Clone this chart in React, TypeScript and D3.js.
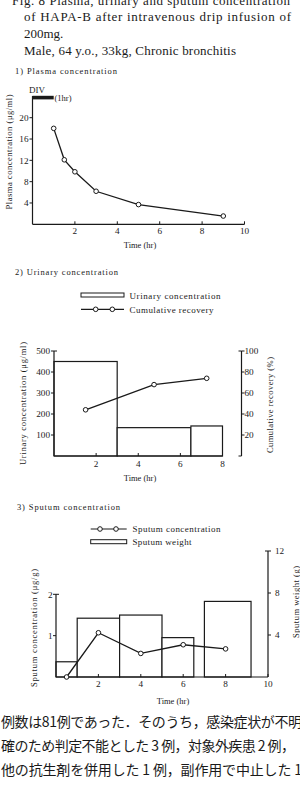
import React from "react";
import * as d3 from "d3";

// ---- Data ----
const plasmaTime = [1, 1.5, 2, 3, 5, 9];
const plasmaConc = [18, 12.1, 9.85, 6.2, 3.7, 1.55];
const plasmaXTicks = [2, 4, 6, 8, 10];
const plasmaYTicks = [4, 8, 12, 16, 20];

const urineStart = [0, 3, 6.5];
const urineEnd = [3, 6.5, 8];
const urineConc = [450, 135, 143];
const recoveryTime = [1.5, 4.75, 7.25];
const recoveryPct = [44, 68, 74];
const urineXTicks = [2, 4, 6, 8];
const urineYTicks = [100, 200, 300, 400, 500];
const recoveryTicks = [20, 40, 60, 80, 100];

const sputumWStart = [0, 1, 3, 5, 7];
const sputumWEnd = [1, 3, 5, 6.5, 9.2];
const sputumWeight = [1.45, 5.6, 5.9, 3.75, 7.2];
const sputumTime = [0.5, 2, 4, 6, 8];
const sputumConc = [0, 1.07, 0.57, 0.78, 0.68];
const sputumXTicks = [2, 4, 6, 8, 10];
const sputumYTicks = [1, 2];
const weightTicks = [4, 8, 12];

const bodyLines = [
  "例数は81例であった．そのうち，感染症状が不明",
  "確のため判定不能とした 3 例，対象外疾患 2 例，",
  "他の抗生剤を併用した 1 例，副作用で中止した 1",
];

const ink = "#1a1a1a";
const serif = "'Liberation Serif', 'DejaVu Serif', serif";
const cjk = "'Noto Sans CJK JP', sans-serif";

function Marker({ x, y }: { x: number; y: number }) {
  return <circle cx={x} cy={y} r={2.3} fill="#fff" stroke={ink} strokeWidth={1} />;
}

export default function App() {
  // Plasma
  const xP = d3.scaleLinear().domain([0, 10]).range([32.5, 244.5]);
  const yP = d3.scaleLinear().domain([0, 20]).range([224.3, 117.7]);
  const plasmaLine = d3
    .line<number>()
    .x((_, i) => xP(plasmaTime[i]))
    .y((d) => yP(d))(plasmaConc);

  // Urinary
  const xU = d3.scaleLinear().domain([0, 8]).range([54, 222.5]);
  const yU = d3.scaleLinear().domain([0, 500]).range([456, 351]);
  const yR = d3.scaleLinear().domain([0, 100]).range([456, 351]);
  const recLine = d3
    .line<number>()
    .x((_, i) => xU(recoveryTime[i]))
    .y((d) => yR(d))(recoveryPct);
  const rightU = 241.5;

  // Sputum
  const xS = d3.scaleLinear().domain([0, 10]).range([56, 268]);
  const yS = d3.scaleLinear().domain([0, 2]).range([677, 594.3]);
  const yW = d3.scaleLinear().domain([0, 12]).range([677, 551]);
  const spLine = d3
    .line<number>()
    .x((_, i) => xS(sputumTime[i]))
    .y((d) => yS(d))(sputumConc);

  const tick = { stroke: ink, strokeWidth: 1 };
  const axis = { stroke: ink, strokeWidth: 1.2, fill: "none" };
  const small = { fontFamily: serif, fontSize: 8.5, fill: ink };
  const tl = { fontFamily: serif, fontSize: 9.2, fill: ink };

  return (
    <div style={{ position: "absolute", left: 0, top: 0 }}>
      <svg width={300} height={794} style={{ display: "block", background: "#fff" }}>
        {/* Title */}
        <g fontFamily={serif} fontSize={13} fill={ink}>
          <text x={12} y={5} textLength={278} lengthAdjust="spacing">
            Fig. 8  Plasma, urinary and sputum concentration
          </text>
          <text x={24} y={21} textLength={267} lengthAdjust="spacing">
            of HAPA-B after intravenous drip infusion of
          </text>
          <text x={24} y={37.5}>200mg.</text>
          <text x={24} y={55} textLength={212} lengthAdjust="spacing">
            Male, 64 y.o., 33kg, Chronic bronchitis
          </text>
        </g>

        {/* ---------- 1) Plasma ---------- */}
        <text {...small} x={15} y={74} textLength={102} lengthAdjust="spacing">
          1)  Plasma  concentration
        </text>
        <text {...small} fontSize={9} x={29} y={93}>DIV</text>
        <rect x={xP(0)} y={95.8} width={xP(1) - xP(0)} height={3.6} fill={ink} />
        <text {...small} x={54.5} y={100.5}>(1hr)</text>
        <line x1={xP(0)} x2={xP(0)} y1={96} y2={yP(0)} {...axis} />
        <line x1={xP(0)} x2={xP(10)} y1={yP(0)} y2={yP(0)} {...axis} />
        {plasmaXTicks.map((t) => (
          <g key={"px" + t}>
            <line x1={xP(t)} x2={xP(t)} y1={yP(0)} y2={yP(0) - 3} {...tick} />
            <text {...tl} x={xP(t)} y={234} textAnchor="middle">{t}</text>
          </g>
        ))}
        {plasmaYTicks.map((t) => (
          <g key={"py" + t}>
            <line x1={xP(0)} x2={xP(0) - 3} y1={yP(t)} y2={yP(t)} {...tick} />
            <text {...tl} x={28.5} y={yP(t) + 3.2} textAnchor="end">{t}</text>
          </g>
        ))}
        <path d={plasmaLine || ""} fill="none" stroke={ink} strokeWidth={1.3} />
        {plasmaConc.map((v, i) => (
          <Marker key={"pm" + i} x={xP(plasmaTime[i])} y={yP(v)} />
        ))}
        <text {...small} x={140} y={247.5} textAnchor="middle">Time (hr)</text>
        <text
          {...small}
          transform={`translate(11.5,152) rotate(-90)`}
          textAnchor="middle"
          textLength={115}
          lengthAdjust="spacing"
        >
          Plasma concentration (μg/ml)
        </text>

        {/* ---------- 2) Urinary ---------- */}
        <text {...small} x={15} y={275} textLength={103} lengthAdjust="spacing">
          2)  Urinary  concentration
        </text>
        {/* legend */}
        <rect x={81} y={293} width={43} height={4} fill="#fff" stroke={ink} strokeWidth={1} />
        <text {...small} fontSize={9} x={129.5} y={298.5} textLength={91} lengthAdjust="spacing">
          Urinary concentration
        </text>
        <line x1={81} x2={124} y1={309.3} y2={309.3} stroke={ink} strokeWidth={1.2} />
        <Marker x={95.7} y={309.3} />
        <Marker x={112.3} y={309.3} />
        <text {...small} fontSize={9} x={129.5} y={312.5} textLength={84} lengthAdjust="spacing">
          Cumulative recovery
        </text>
        {/* bars */}
        {urineConc.map((v, i) => (
          <rect
            key={"ub" + i}
            x={xU(urineStart[i])}
            y={yU(v)}
            width={xU(urineEnd[i]) - xU(urineStart[i])}
            height={yU(0) - yU(v)}
            fill="#fff"
            stroke={ink}
            strokeWidth={1.2}
          />
        ))}
        {/* axes */}
        <line x1={xU(0)} x2={xU(0)} y1={yU(500)} y2={yU(0)} {...axis} />
        <line x1={xU(0)} x2={xU(8)} y1={yU(0)} y2={yU(0)} {...axis} />
        <line x1={xU(0)} x2={xU(0) + 3} y1={yU(500)} y2={yU(500)} {...tick} />
        {urineYTicks.map((t) => (
          <g key={"uy" + t}>
            <line x1={xU(0)} x2={xU(0) - 3} y1={yU(t)} y2={yU(t)} {...tick} />
            <text {...tl} x={50} y={yU(t) + 3.2} textAnchor="end">{t}</text>
          </g>
        ))}
        {urineXTicks.map((t) => (
          <g key={"ux" + t}>
            <line x1={xU(t)} x2={xU(t)} y1={yU(0)} y2={yU(0) - 3} {...tick} />
            <text {...tl} x={xU(t)} y={467} textAnchor="middle">{t}</text>
          </g>
        ))}
        <line x1={rightU} x2={rightU} y1={yR(100)} y2={yR(0)} {...axis} />
        <line x1={rightU} x2={rightU - 3} y1={yR(100)} y2={yR(100)} {...tick} />
        <line x1={rightU} x2={rightU - 3} y1={yR(0)} y2={yR(0)} {...tick} />
        {recoveryTicks.map((t) => (
          <g key={"ur" + t}>
            <line x1={rightU} x2={rightU + 3} y1={yR(t)} y2={yR(t)} {...tick} />
            <text {...tl} x={244.5} y={yR(t) + 3.2}>{t}</text>
          </g>
        ))}
        <path d={recLine || ""} fill="none" stroke={ink} strokeWidth={1.3} />
        {recoveryPct.map((v, i) => (
          <Marker key={"um" + i} x={xU(recoveryTime[i])} y={yR(v)} />
        ))}
        <text {...small} x={140} y={481} textAnchor="middle">Time (hr)</text>
        <text
          {...small}
          transform={`translate(25.5,403.5) rotate(-90)`}
          textAnchor="middle"
          textLength={123}
          lengthAdjust="spacing"
        >
          Urinary concentration (μg/ml)
        </text>
        <text
          {...small}
          transform={`translate(272.5,405) rotate(-90)`}
          textAnchor="middle"
          textLength={96}
          lengthAdjust="spacing"
        >
          Cumulative recovery (%)
        </text>

        {/* ---------- 3) Sputum ---------- */}
        <text {...small} x={17} y={510} textLength={103} lengthAdjust="spacing">
          3)  Sputum  concentration
        </text>
        <line x1={90.7} x2={126.7} y1={529} y2={529} stroke={ink} strokeWidth={1.2} />
        <Marker x={100} y={529} />
        <Marker x={116} y={529} />
        <text {...small} fontSize={9} x={132.5} y={532} textLength={88} lengthAdjust="spacing">
          Sputum concentration
        </text>
        <rect x={90.7} y={539.7} width={36} height={4} fill="#fff" stroke={ink} strokeWidth={1} />
        <text {...small} fontSize={9} x={132.5} y={545} textLength={59} lengthAdjust="spacing">
          Sputum weight
        </text>
        {sputumWeight.map((v, i) => (
          <rect
            key={"sb" + i}
            x={xS(sputumWStart[i])}
            y={yW(v)}
            width={xS(sputumWEnd[i]) - xS(sputumWStart[i])}
            height={yW(0) - yW(v)}
            fill="#fff"
            stroke={ink}
            strokeWidth={1.2}
          />
        ))}
        <line x1={xS(0)} x2={xS(0)} y1={yS(2)} y2={yS(0)} {...axis} />
        <line x1={xS(0)} x2={xS(0) + 3} y1={yS(2)} y2={yS(2)} {...tick} />
        <line x1={xS(0)} x2={xS(10)} y1={yS(0)} y2={yS(0)} {...axis} />
        {sputumYTicks.map((t) => (
          <g key={"sy" + t}>
            <line x1={xS(0)} x2={xS(0) - 3} y1={yS(t)} y2={yS(t)} {...tick} />
            <text {...tl} x={52.5} y={yS(t) + 3.2} textAnchor="end">{t}</text>
          </g>
        ))}
        {sputumXTicks.map((t) => (
          <g key={"sx" + t}>
            <line x1={xS(t)} x2={xS(t)} y1={yS(0)} y2={yS(0) - 3} {...tick} />
            <text {...tl} x={xS(t)} y={687} textAnchor="middle">{t}</text>
          </g>
        ))}
        <line x1={xS(10)} x2={xS(10)} y1={yW(12)} y2={yW(0)} {...axis} />
        <line x1={xS(10)} x2={xS(10) - 3} y1={yW(12)} y2={yW(12)} {...tick} />
        {weightTicks.map((t) => (
          <g key={"sw" + t}>
            <line x1={xS(10)} x2={xS(10) + 3} y1={yW(t)} y2={yW(t)} {...tick} />
            <text {...tl} x={275} y={yW(t) + 3.2}>{t}</text>
          </g>
        ))}
        <path d={spLine || ""} fill="none" stroke={ink} strokeWidth={1.3} />
        {sputumConc.map((v, i) => (
          <Marker key={"sm" + i} x={xS(sputumTime[i])} y={yS(v)} />
        ))}
        <text {...small} x={173} y={703.5} textAnchor="middle">Time (hr)</text>
        <text
          {...small}
          transform={`translate(36.5,628) rotate(-90)`}
          textAnchor="middle"
          textLength={118}
          lengthAdjust="spacing"
        >
          Sputum concentration (μg/g)
        </text>
        <text
          {...small}
          transform={`translate(298.5,602) rotate(-90)`}
          textAnchor="middle"
          textLength={72}
          lengthAdjust="spacing"
        >
          Sputum weight (g)
        </text>

        {/* Body text */}
        <g fontFamily={cjk} fontSize={14} fill={ink}>
          {bodyLines.map((s, i) => (
            <text key={"bl" + i} x={1} y={727 + i * 24} textLength={i === 1 ? 294 : 301} lengthAdjust="spacing">
              {s}
            </text>
          ))}
        </g>
      </svg>
    </div>
  );
}
